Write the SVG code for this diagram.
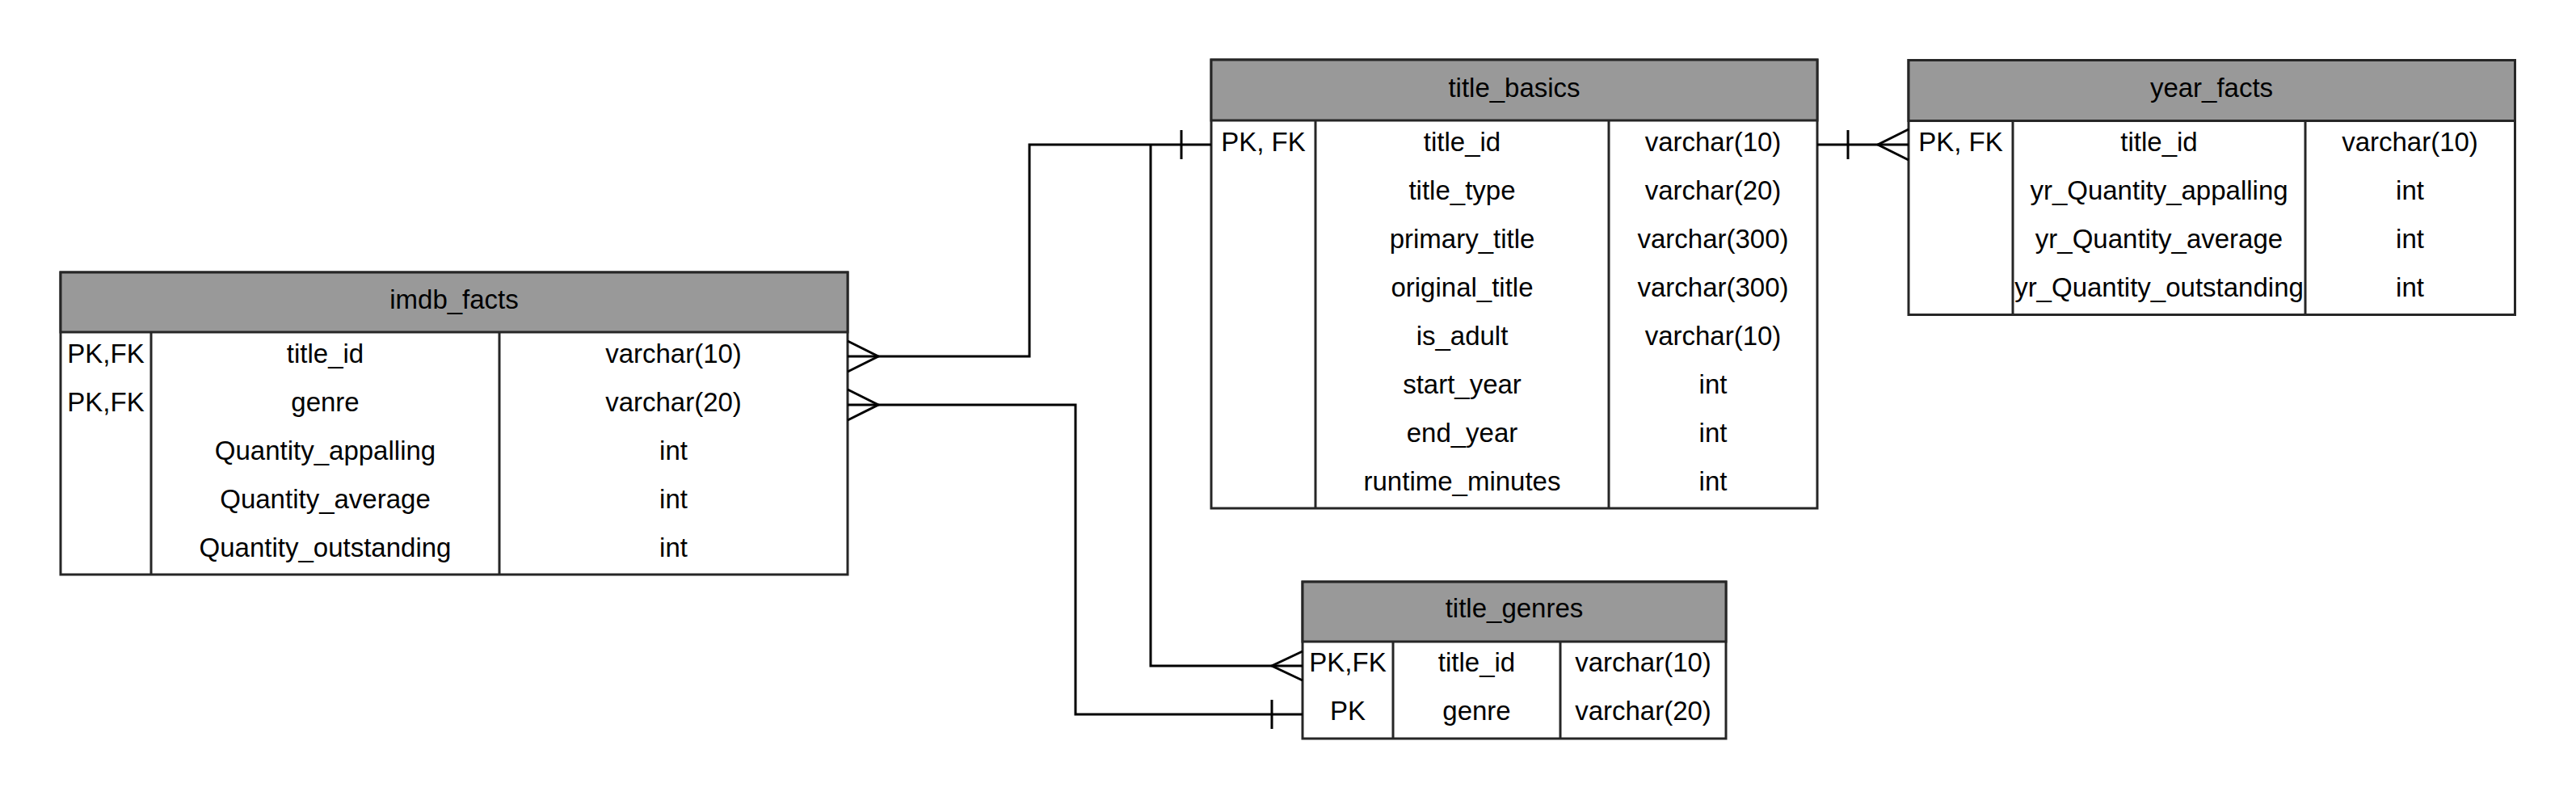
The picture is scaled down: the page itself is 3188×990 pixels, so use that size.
<svg xmlns="http://www.w3.org/2000/svg" width="3188" height="990" viewBox="0 0 3188 990">
<style>
  .frame{fill:#ffffff;stroke:#262626;stroke-width:3}
  .head{fill:#999999;stroke:#262626;stroke-width:3}
  .div{stroke:#262626;stroke-width:3;fill:none}
  text{font-family:"Liberation Sans",Arial,Helvetica,sans-serif;font-size:33px;fill:#000000;text-anchor:middle}
  .conn path{fill:none;stroke:#000000;stroke-width:3;stroke-linejoin:miter}
</style>
<rect width="3188" height="990" fill="#ffffff"/>

<g id="imdb_facts">
  <rect class="frame" x="75" y="337" width="974" height="374"/>
  <rect class="head" x="75" y="337" width="974" height="74"/>
  <path class="div" d="M187,411 V711 M618,411 V711"/>
  <text x="562" y="382">imdb_facts</text>
  <text x="131" y="449">PK,FK</text><text x="402.5" y="449">title_id</text><text x="833.5" y="449">varchar(10)</text>
  <text x="131" y="509">PK,FK</text><text x="402.5" y="509">genre</text><text x="833.5" y="509">varchar(20)</text>
  <text x="402.5" y="569">Quantity_appalling</text><text x="833.5" y="569">int</text>
  <text x="402.5" y="629">Quantity_average</text><text x="833.5" y="629">int</text>
  <text x="402.5" y="689">Quantity_outstanding</text><text x="833.5" y="689">int</text>
</g>

<g id="title_basics">
  <rect class="frame" x="1499" y="74" width="750" height="555"/>
  <rect class="head" x="1499" y="74" width="750" height="75"/>
  <path class="div" d="M1628,149 V629 M1991,149 V629"/>
  <text x="1874" y="119.5">title_basics</text>
  <text x="1563.5" y="187">PK, FK</text><text x="1809.5" y="187">title_id</text><text x="2120" y="187">varchar(10)</text>
  <text x="1809.5" y="247">title_type</text><text x="2120" y="247">varchar(20)</text>
  <text x="1809.5" y="307">primary_title</text><text x="2120" y="307">varchar(300)</text>
  <text x="1809.5" y="367">original_title</text><text x="2120" y="367">varchar(300)</text>
  <text x="1809.5" y="427">is_adult</text><text x="2120" y="427">varchar(10)</text>
  <text x="1809.5" y="487">start_year</text><text x="2120" y="487">int</text>
  <text x="1809.5" y="547">end_year</text><text x="2120" y="547">int</text>
  <text x="1809.5" y="607">runtime_minutes</text><text x="2120" y="607">int</text>
</g>

<g id="year_facts">
  <rect class="frame" x="2362" y="74.5" width="750.5" height="315"/>
  <rect class="head" x="2362" y="74.5" width="750.5" height="75"/>
  <path class="div" d="M2491,149.5 V389.5 M2853,149.5 V389.5"/>
  <text x="2737" y="120">year_facts</text>
  <text x="2426.5" y="187">PK, FK</text><text x="2672" y="187">title_id</text><text x="2982.5" y="187">varchar(10)</text>
  <text x="2672" y="247">yr_Quantity_appalling</text><text x="2982.5" y="247">int</text>
  <text x="2672" y="307">yr_Quantity_average</text><text x="2982.5" y="307">int</text>
  <text x="2672" y="367">yr_Quantity_outstanding</text><text x="2982.5" y="367">int</text>
</g>

<g id="title_genres">
  <rect class="frame" x="1612" y="720" width="524" height="194"/>
  <rect class="head" x="1612" y="720" width="524" height="74"/>
  <path class="div" d="M1724,794 V914 M1931,794 V914"/>
  <text x="1874" y="764">title_genres</text>
  <text x="1668" y="831">PK,FK</text><text x="1827.5" y="831">title_id</text><text x="2033.5" y="831">varchar(10)</text>
  <text x="1668" y="891">PK</text><text x="1827.5" y="891">genre</text><text x="2033.5" y="891">varchar(20)</text>
</g>

<g id="connectors" class="conn">
  <path d="M1049,441 H1274 V179 H1499"/>
  <path d="M1049,422 L1087,441 L1049,460"/>
  <path d="M1462,161 V197"/>
  <path d="M1424,179 V824 H1612"/>
  <path d="M1612,806 L1574,824 L1612,842"/>
  <path d="M1049,501 H1331 V884 H1612"/>
  <path d="M1049,482 L1087,501 L1049,520"/>
  <path d="M1574,866 V902"/>
  <path d="M2249,179 H2362"/>
  <path d="M2287,161 V197"/>
  <path d="M2362,160 L2324,179 L2362,198"/>
</g>
</svg>
